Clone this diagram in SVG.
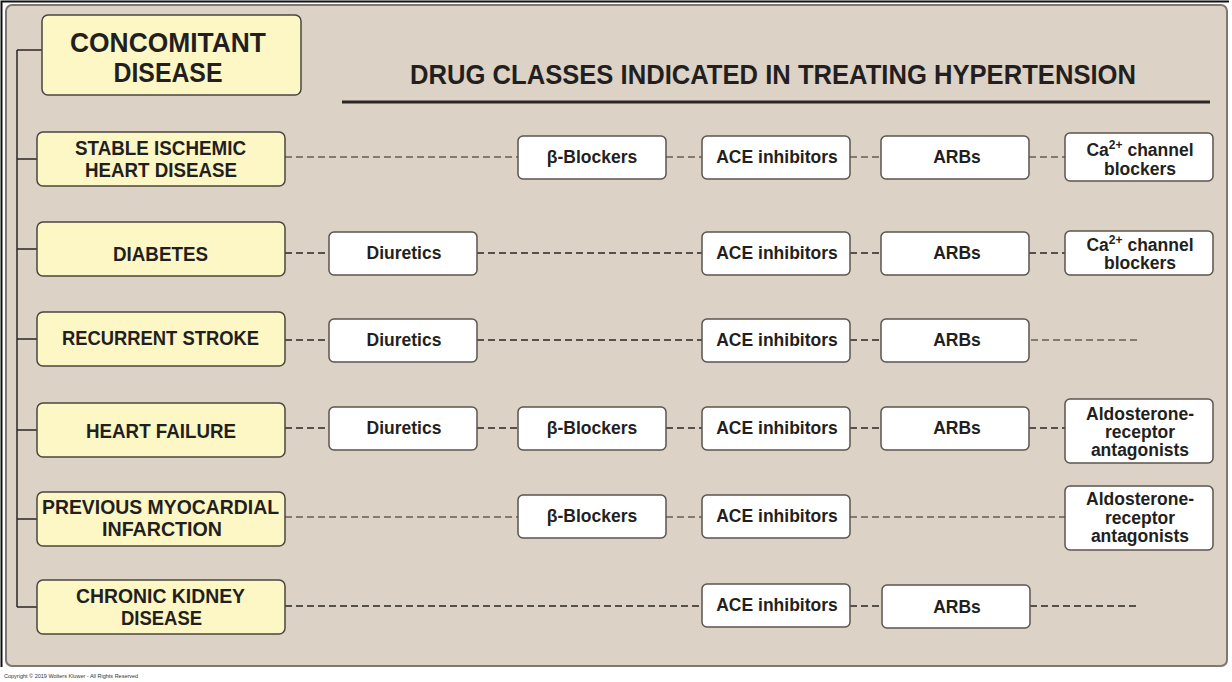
<svg xmlns="http://www.w3.org/2000/svg" width="1232" height="682" viewBox="0 0 1232 682">
<style>
.dis{fill:#fdf7c5;stroke:#4a4540;stroke-width:1.5}
.drug{fill:#ffffff;stroke:#5a554f;stroke-width:1.5}
.dt{font-family:"Liberation Sans",Arial,sans-serif;font-weight:bold;font-size:21px;fill:#231f20;text-anchor:middle}
.gt{font-family:"Liberation Sans",Arial,sans-serif;font-weight:bold;font-size:17.5px;fill:#231f20;text-anchor:middle}
.ht{font-family:"Liberation Sans",Arial,sans-serif;font-weight:bold;font-size:28px;fill:#231f20;text-anchor:middle}
.dk{stroke:#2b2724;stroke-width:1.4;stroke-dasharray:7 4;fill:none}
.gr{stroke:#857a70;stroke-width:2;stroke-dasharray:7 4;fill:none}
.tree{stroke:#2b2724;stroke-width:1.5;fill:none}
.sup{font-size:12px}
</style>
<rect x="0" y="0" width="1232" height="682" fill="#ffffff"/>
<path d="M1.5 667 V1.5 H1229" stroke="#111" stroke-width="2" fill="none"/>
<rect x="6" y="5" width="1221" height="661" rx="6" fill="#dcd2c6" stroke="#7d7873" stroke-width="2"/>
<text x="4" y="678" font-family="Liberation Sans,Arial,sans-serif" font-size="5.5" fill="#333">Copyright © 2019 Wolters Kluwer - All Rights Reserved</text>

<g id="title">
<text class="ht" x="773" y="84" textLength="726" lengthAdjust="spacingAndGlyphs">DRUG CLASSES INDICATED IN TREATING HYPERTENSION</text>
<line x1="342" y1="102" x2="1210" y2="102" stroke="#2b2724" stroke-width="3"/>
</g>

<g id="connectors">
<path class="tree" d="M17 50 V607 M17 50 H42 M17 159 H37 M17 249 H37 M17 339 H37 M17 430 H37 M17 519 H37 M17 607 H37"/>
<path class="gr" d="M285 157 H518 M666 157 H702 M850 157 H881 M1029 157 H1065"/>
<path class="dk" d="M285 253 H329 M477 253 H702 M850 253 H881 M1029 253 H1065"/>
<path class="dk" d="M285 340 H329 M477 340 H702 M850 340 H881"/>
<path class="gr" d="M1031 340 H1138"/>
<path class="dk" d="M285 428 H329 M477 428 H518 M666 428 H702 M850 428 H881 M1029 428 H1065"/>
<path class="gr" d="M285 517 H518 M666 517 H702 M850 517 H1065"/>
<path class="dk" d="M285 606 H702 M850 606 H882 M1030 606 H1138"/>
</g>

<g id="header">
<rect class="dis" x="42" y="15" width="259" height="80" rx="6"/>
<text class="ht" x="168" y="52" textLength="196" lengthAdjust="spacingAndGlyphs">CONCOMITANT</text>
<text class="ht" x="168" y="82" textLength="109" lengthAdjust="spacingAndGlyphs">DISEASE</text>
</g>

<g id="d-sihd">
<rect class="dis" x="37" y="132" width="248" height="54" rx="6"/>
<text class="dt" x="160.5" y="155" textLength="171" lengthAdjust="spacingAndGlyphs">STABLE ISCHEMIC</text>
<text class="dt" x="161" y="177" textLength="152" lengthAdjust="spacingAndGlyphs">HEART DISEASE</text>
</g>
<g id="d-diabetes">
<rect class="dis" x="37" y="222" width="248" height="54" rx="6"/>
<text class="dt" x="160.5" y="261" textLength="95" lengthAdjust="spacingAndGlyphs">DIABETES</text>
</g>
<g id="d-stroke">
<rect class="dis" x="37" y="312" width="248" height="54" rx="6"/>
<text class="dt" x="160.5" y="345" textLength="197" lengthAdjust="spacingAndGlyphs">RECURRENT STROKE</text>
</g>
<g id="d-hf">
<rect class="dis" x="37" y="403" width="248" height="54" rx="6"/>
<text class="dt" x="161" y="438" textLength="150" lengthAdjust="spacingAndGlyphs">HEART FAILURE</text>
</g>
<g id="d-mi">
<rect class="dis" x="37" y="492" width="248" height="54" rx="6"/>
<text class="dt" x="160.5" y="514" textLength="237" lengthAdjust="spacingAndGlyphs">PREVIOUS MYOCARDIAL</text>
<text class="dt" x="162" y="536" textLength="120" lengthAdjust="spacingAndGlyphs">INFARCTION</text>
</g>
<g id="d-ckd">
<rect class="dis" x="37" y="580" width="248" height="54" rx="6"/>
<text class="dt" x="160.5" y="603" textLength="169" lengthAdjust="spacingAndGlyphs">CHRONIC KIDNEY</text>
<text class="dt" x="161.5" y="625" textLength="81" lengthAdjust="spacingAndGlyphs">DISEASE</text>
</g>

<!-- Row 1 -->
<g id="r1-bb"><rect class="drug" x="518" y="136" width="148" height="43" rx="5"/><text class="gt" x="592" y="163">β-Blockers</text></g>
<g id="r1-ace"><rect class="drug" x="702" y="136" width="148" height="43" rx="5"/><text class="gt" x="777" y="163">ACE inhibitors</text></g>
<g id="r1-arb"><rect class="drug" x="881" y="136" width="148" height="43" rx="5"/><text class="gt" x="957" y="163">ARBs</text></g>
<g id="r1-ccb"><rect class="drug" x="1065" y="133" width="148" height="48" rx="5"/><text class="gt" x="1140" y="156">Ca<tspan class="sup" dy="-7">2+</tspan><tspan dy="7"> channel</tspan></text><text class="gt" x="1140" y="175">blockers</text></g>
<!-- Row 2 -->
<g id="r2-diu"><rect class="drug" x="329" y="232" width="148" height="43" rx="5"/><text class="gt" x="404" y="259">Diuretics</text></g>
<g id="r2-ace"><rect class="drug" x="702" y="232" width="148" height="43" rx="5"/><text class="gt" x="777" y="259">ACE inhibitors</text></g>
<g id="r2-arb"><rect class="drug" x="881" y="232" width="148" height="43" rx="5"/><text class="gt" x="957" y="259">ARBs</text></g>
<g id="r2-ccb"><rect class="drug" x="1065" y="231" width="148" height="44" rx="5"/><text class="gt" x="1140" y="251">Ca<tspan class="sup" dy="-7">2+</tspan><tspan dy="7"> channel</tspan></text><text class="gt" x="1140" y="269">blockers</text></g>
<!-- Row 3 -->
<g id="r3-diu"><rect class="drug" x="329" y="319" width="148" height="43" rx="5"/><text class="gt" x="404" y="346">Diuretics</text></g>
<g id="r3-ace"><rect class="drug" x="702" y="319" width="148" height="43" rx="5"/><text class="gt" x="777" y="346">ACE inhibitors</text></g>
<g id="r3-arb"><rect class="drug" x="881" y="319" width="148" height="43" rx="5"/><text class="gt" x="957" y="346">ARBs</text></g>
<!-- Row 4 -->
<g id="r4-diu"><rect class="drug" x="329" y="407" width="148" height="43" rx="5"/><text class="gt" x="404" y="434">Diuretics</text></g>
<g id="r4-bb"><rect class="drug" x="518" y="407" width="148" height="43" rx="5"/><text class="gt" x="592" y="434">β-Blockers</text></g>
<g id="r4-ace"><rect class="drug" x="702" y="407" width="148" height="43" rx="5"/><text class="gt" x="777" y="434">ACE inhibitors</text></g>
<g id="r4-arb"><rect class="drug" x="881" y="407" width="148" height="43" rx="5"/><text class="gt" x="957" y="434">ARBs</text></g>
<g id="r4-ald"><rect class="drug" x="1065" y="399" width="148" height="64" rx="5"/><text class="gt" x="1140" y="420">Aldosterone-</text><text class="gt" x="1140" y="438">receptor</text><text class="gt" x="1140" y="456">antagonists</text></g>
<!-- Row 5 -->
<g id="r5-bb"><rect class="drug" x="518" y="495" width="148" height="43" rx="5"/><text class="gt" x="592" y="522">β-Blockers</text></g>
<g id="r5-ace"><rect class="drug" x="702" y="495" width="148" height="43" rx="5"/><text class="gt" x="777" y="522">ACE inhibitors</text></g>
<g id="r5-ald"><rect class="drug" x="1065" y="486" width="148" height="64" rx="5"/><text class="gt" x="1140" y="505">Aldosterone-</text><text class="gt" x="1140" y="524">receptor</text><text class="gt" x="1140" y="542">antagonists</text></g>
<!-- Row 6 -->
<g id="r6-ace"><rect class="drug" x="702" y="584" width="148" height="43" rx="5"/><text class="gt" x="777" y="611">ACE inhibitors</text></g>
<g id="r6-arb"><rect class="drug" x="882" y="585" width="148" height="43" rx="5"/><text class="gt" x="957" y="613">ARBs</text></g>
</svg>
